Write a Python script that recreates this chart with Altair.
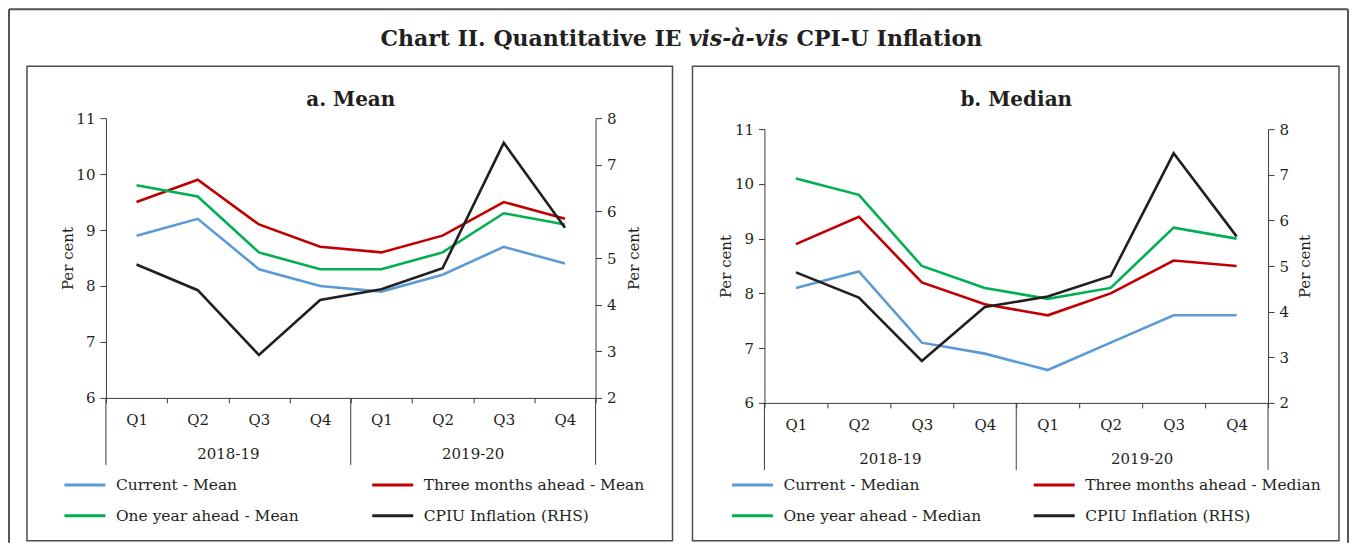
import altair as alt
import pandas as pd

# ---------------- data ----------------
years = ["2018-19", "2019-20"]
quarters = ["Q1", "Q2", "Q3", "Q4"]
periods = [f"{y} {q}" for y in years for q in quarters]

series_mean = ["Current - Mean", "Three months ahead - Mean", "One year ahead - Mean"]
series_median = ["Current - Median", "Three months ahead - Median", "One year ahead - Median"]
cpiu_label = "CPIU Inflation (RHS)"

current_mean = [8.9, 9.2, 8.3, 8.0, 7.9, 8.2, 8.7, 8.4]
three_month_mean = [9.5, 9.9, 9.1, 8.7, 8.6, 8.9, 9.5, 9.2]
one_year_mean = [9.8, 9.6, 8.6, 8.3, 8.3, 8.6, 9.3, 9.1]

current_median = [8.1, 8.4, 7.1, 6.9, 6.6, 7.1, 7.6, 7.6]
three_month_median = [8.9, 9.4, 8.2, 7.8, 7.6, 8.0, 8.6, 8.5]
one_year_median = [10.1, 9.8, 8.5, 8.1, 7.9, 8.1, 9.2, 9.0]

cpiu = [4.86, 4.31, 2.92, 4.10, 4.33, 4.78, 7.47, 5.65]

left_ticks = [6, 7, 8, 9, 10, 11]
right_ticks = [2, 3, 4, 5, 6, 7, 8]

colors = ["#5B9BD5", "#C00000", "#00B050", "#231F20"]

FONT = "DejaVu Serif"
AX = "#3a3a3a"
TXT = "#231F20"


def one_row():
    return pd.DataFrame({"k": [0]})


def panel(panel_title, names, vals, W, H, top, legend_x, legend_y, row_pad, col_pad,
          frame_x0, frame_x1, left_title_off, right_title_off, extra):
    rows = []
    for n, vs in zip(names, vals):
        for p, v in zip(periods, vs):
            rows.append({"period": p, "series": n, "value": v})
    lhs = pd.DataFrame(rows)
    rhs = pd.DataFrame({"period": periods, "series": [cpiu_label] * len(periods), "value": cpiu})
    domain = names + [cpiu_label]

    x_scale = alt.Scale(type="band", domain=periods, paddingInner=0, paddingOuter=0)
    x_axis = alt.Axis(title=None, labelExpr="split(datum.label, ' ')[1]", tickBand="extent",
                      tickSize=5, labelPadding=10, labelAngle=0, domainColor=AX, tickColor=AX,
                      labelColor=TXT, labelFontSize=15, labelFont=FONT, grid=False)

    def X(bp):
        return alt.X("period:N", scale=x_scale, axis=x_axis, bandPosition=bp)

    color = alt.Color(
        "series:N",
        scale=alt.Scale(domain=domain, range=colors),
        legend=alt.Legend(title=None, orient="none", legendX=legend_x, legendY=legend_y, columns=2,
                          direction="horizontal",
                          symbolType="stroke", symbolSize=1681, symbolStrokeWidth=3,
                          labelFont=FONT, labelFontSize=15.5, labelColor=TXT, labelOffset=9,
                          labelLimit=400, rowPadding=row_pad, columnPadding=col_pad, padding=0),
    )

    yl = alt.Y("value:Q",
               scale=alt.Scale(domain=[6, 11], range=[H, top], nice=False, zero=False),
               axis=alt.Axis(values=left_ticks, title="Per cent", titleAngle=270,
                             titleX=-left_title_off, titleY=(H + top) / 2, titleBaseline="middle",
                             titleAlign="center", titleFont=FONT, titleFontSize=15,
                             titleFontWeight="normal", titleColor=TXT, tickSize=6, labelPadding=5,
                             labelFont=FONT, labelFontSize=15, labelColor=TXT,
                             domainColor=AX, tickColor=AX, grid=False))
    yr_ = alt.Y("value:Q",
                scale=alt.Scale(domain=[2, 8], range=[H, top], nice=False, zero=False),
                axis=alt.Axis(orient="right", values=right_ticks, title="Per cent", titleAngle=270,
                              titleX=right_title_off, titleY=(H + top) / 2, titleBaseline="middle",
                              titleAlign="center", titleFont=FONT, titleFontSize=15,
                              titleFontWeight="normal", titleColor=TXT, tickSize=6, labelPadding=5,
                              labelFont=FONT, labelFontSize=15, labelColor=TXT,
                              domainColor=AX, tickColor=AX, grid=False))

    lines_l = alt.Chart(lhs).mark_line(strokeWidth=2.6).encode(
        x=X(0.5), y=yl, color=color, detail="series:N")
    line_r = alt.Chart(rhs).mark_line(strokeWidth=2.6).encode(
        x=X(0.5), y=yr_, color=color)

    sep_start = alt.Chart(pd.DataFrame({"period": [f"{y} {quarters[0]}" for y in years]})).mark_rule(
        color=AX, strokeWidth=1).encode(x=X(0), y=alt.value(H), y2=alt.value(H + 67))
    sep_end = alt.Chart(pd.DataFrame({"period": [periods[-1]]})).mark_rule(
        color=AX, strokeWidth=1).encode(x=X(1), y=alt.value(H), y2=alt.value(H + 67))
    year_lbl = alt.Chart(pd.DataFrame({"period": [f"{y} {quarters[2]}" for y in years],
                                       "year": years})).mark_text(
        font=FONT, fontSize=15, color=TXT, baseline="middle").encode(
        x=X(0), y=alt.value(H + 56), text="year:N")

    ttl = alt.Chart(one_row()).mark_text(text=panel_title, font=FONT, fontSize=20, fontWeight="bold",
                                         color=TXT, baseline="alphabetic").encode(
        x=alt.value(W / 2), y=alt.value(-12))
    frame = alt.Chart(one_row()).mark_rect(fillOpacity=0, stroke="#4d4d4d", strokeWidth=1.5).encode(
        x=alt.value(frame_x0), x2=alt.value(frame_x1), y=alt.value(-52), y2=alt.value(423))

    return alt.layer(frame, lines_l, line_r, sep_start, sep_end, year_lbl, ttl, *extra).resolve_scale(
        y="independent").properties(width=W, height=H)


# main title and outer frame (drawn in the left panel's coordinate system)
def title_part(text, x, align, style="normal"):
    return alt.Chart(one_row()).mark_text(text=text, font=FONT, fontSize=22, fontWeight="bold",
                                          fontStyle=style, align=align, baseline="alphabetic",
                                          color=TXT).encode(x=alt.value(x), y=alt.value(-72))


t1 = title_part("Chart II. Quantitative IE", 576, "right")
t2 = title_part("vis-à-vis", 633, "center", "italic")
t3 = title_part("CPI-U Inflation", 691, "left")

o_top = alt.Chart(one_row()).mark_rule(color="#555", strokeWidth=2).encode(
    x=alt.value(-97), x2=alt.value(1243), y=alt.value(-109))
o_left = alt.Chart(one_row()).mark_rule(color="#555", strokeWidth=2).encode(
    x=alt.value(-97), y=alt.value(-109), y2=alt.value(425))
o_right = alt.Chart(one_row()).mark_rule(color="#555", strokeWidth=2).encode(
    x=alt.value(1243), y=alt.value(-109), y2=alt.value(425))

left = panel("a. Mean", series_mean, [current_mean, three_month_mean, one_year_mean],
             W=490, H=280, top=0, legend_x=-43, legend_y=345, row_pad=-20, col_pad=66,
             frame_x0=-79, frame_x1=567,
             left_title_off=38, right_title_off=38, extra=[t1, t2, t3, o_top, o_left, o_right])
right = panel("b. Median", series_median, [current_median, three_month_median, one_year_median],
              W=504, H=285, top=11, legend_x=-34, legend_y=345, row_pad=-20, col_pad=45,
              frame_x0=-72, frame_x1=575,
              left_title_off=39, right_title_off=36, extra=[])

chart = alt.hconcat(left, right, spacing=169, bounds="flush").resolve_scale(
    color="independent").properties(padding=0, background="white").configure_view(strokeWidth=0)

chart.save("out.html", embed_options={"renderer": "svg", "actions": False})
